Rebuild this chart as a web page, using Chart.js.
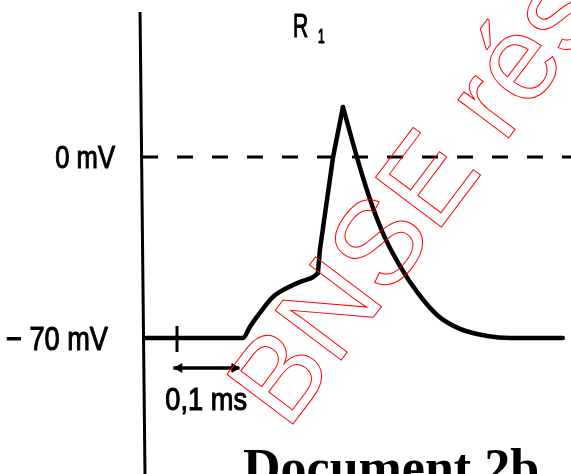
<!DOCTYPE html>
<html>
<head>
<meta charset="utf-8">
<script src="https://cdn.jsdelivr.net/npm/chart.js@4"></script>
<style>
  html, body { margin: 0; padding: 0; background: #fff; }
  canvas { display: block; }
</style>
</head>
<body>
<canvas id="c" width="571" height="474"></canvas>
<script>
// ---- Data ----
// membrane potential trace (time in ms, potential in mV)
const timeMs      = [0.003, 0.1515, 0.162, 0.177, 0.197, 0.218, 0.238, 0.258, 0.265, 0.268, 0.288, 0.303, 0.318, 0.333, 0.3485, 0.3667, 0.3894, 0.4152, 0.4455, 0.4803, 0.5212, 0.556, 0.636];
const potentialMv = [-70,   -70,    -65.7, -60.3, -54.1, -50.7, -48.3, -46.4, -44.9, -36.0, 0,     19.3,  5.4,   -7.7,  -19.7,  -31.3,  -42.2,  -52.2,  -61.1,  -66.5,  -69.2,  -70,   -70];
const riseEnd = 8, peakIndex = 11;        // segment boundaries in the trace
const yTickValues = [0, -70];
const yTickLabels = ["0 mV", "\u2212 70 mV"];
const referenceMv = 0;                    // dashed reference line
const scaleBarStartMs = 0.046;
const scaleBarLengthMs = 0.1;
const scaleBarTickMs = 0.0515;
const scaleBarLabel = "0,1 ms";
const curveTitle = "R";
const curveTitleSub = "1";
const documentLabel = "Document 2b";
const watermark = "BNSE réseau";

// ---- scale ranges (whole canvas is the plot area) ----
const X_MIN = -0.2167, X_MAX = 0.6485;
const Y_MIN = -122.6, Y_MAX = 60.7;

function pts(a, b) {
  const out = [];
  for (let i = a; i <= b; i++) out.push({ x: timeMs[i], y: potentialMv[i] });
  return out;
}
const last = timeMs.length - 1;
const black = '#000';
const PX_MS = 1 / 660; // one pixel in ms, used to inset arrow heads

const datasets = [
  { // vertical axis
    data: [{ x: -0.0045, y: 56.1 }, { x: 0.003, y: -122.6 }],
    borderColor: black, borderWidth: 3, pointRadius: 0, showLine: true
  },
  { // dashed 0 mV line
    data: [{ x: -0.0015, y: referenceMv }, { x: X_MAX + 0.05, y: referenceMv }],
    borderColor: black, borderWidth: 3, borderDash: [16, 19], pointRadius: 0, showLine: true
  },
  { // rise (baseline + local depolarisation)
    data: pts(0, riseEnd),
    borderColor: black, borderWidth: 4.5, pointRadius: 0, showLine: true,
    cubicInterpolationMode: 'monotone', borderCapStyle: 'round'
  },
  { // spike upstroke
    data: pts(riseEnd, peakIndex),
    borderColor: black, borderWidth: 4.5, pointRadius: 0, showLine: true,
    borderJoinStyle: 'miter', borderCapStyle: 'round'
  },
  { // repolarisation
    data: pts(peakIndex, last),
    borderColor: black, borderWidth: 4.5, pointRadius: 0, showLine: true,
    cubicInterpolationMode: 'monotone', borderCapStyle: 'round'
  },
  { // scale bar tick
    data: [{ x: scaleBarTickMs, y: -65.4 }, { x: scaleBarTickMs, y: -75.4 }],
    borderColor: black, borderWidth: 3, pointRadius: 0, showLine: true
  },
  { // scale bar line
    data: [{ x: scaleBarStartMs, y: -81.6 }, { x: scaleBarStartMs + scaleBarLengthMs, y: -81.6 }],
    borderColor: black, borderWidth: 3.5, pointRadius: 0, showLine: true
  },
  { // scale bar arrow heads
    data: [{ x: scaleBarStartMs + 6 * PX_MS, y: -81.6 }, { x: scaleBarStartMs + scaleBarLengthMs - 5 * PX_MS, y: -81.6 }],
    showLine: false, pointStyle: 'triangle', pointRadius: 5,
    rotation: [-90, 90], backgroundColor: black, borderColor: black, borderWidth: 1
  }
];

function drawScaled(ctx, text, x, y, font, sx, align, weight) {
  ctx.save();
  ctx.translate(x, y);
  ctx.scale(sx, 1);
  ctx.font = font;
  ctx.textAlign = align;
  ctx.textBaseline = 'alphabetic';
  ctx.fillStyle = '#000';
  ctx.strokeStyle = '#000';
  ctx.lineWidth = weight;
  ctx.fillText(text, 0, 0);
  if (weight > 0) ctx.strokeText(text, 0, 0);
  ctx.restore();
}

const textPlugin = {
  id: 'texts',
  afterDatasetsDraw(chart) {
    const ctx = chart.ctx;
    const xs = chart.scales.x, ys = chart.scales.y;
    const SANS = '"Liberation Sans", Arial, sans-serif';
    // y tick labels
    yTickValues.forEach((v, i) => {
      const py = ys.getPixelForValue(v);
      const big = i === 1;
      drawScaled(ctx, yTickLabels[i], big ? 108 : 115, py + (big ? 12 : 11),
        (big ? '34px ' : '32px ') + SANS, 0.8, 'right', 1.1);
    });
    // scale bar label
    drawScaled(ctx, scaleBarLabel, xs.getPixelForValue(scaleBarStartMs) - 8, ys.getPixelForValue(-81.6) + 42,
      '32px ' + SANS, 0.85, 'left', 1.1);
    // curve title
    drawScaled(ctx, curveTitle, 293, 37, '34px ' + SANS, 0.62, 'left', 1.1);
    drawScaled(ctx, curveTitleSub, 318, 43, '20px ' + SANS, 0.6, 'left', 1.2);
    // document label
    ctx.save();
    ctx.font = 'bold 52px "Liberation Serif", "Times New Roman", serif';
    ctx.fillStyle = '#000';
    ctx.textAlign = 'left';
    ctx.textBaseline = 'alphabetic';
    ctx.fillText(documentLabel, 243, 485);
    ctx.restore();
    // watermark
    ctx.save();
    ctx.translate(287, 432);
    ctx.rotate(-53 * Math.PI / 180);
    ctx.font = '120px ' + SANS;
    ctx.strokeStyle = '#ff0000';
    ctx.lineWidth = 1;
    ctx.textBaseline = 'alphabetic';
    ctx.strokeText(watermark, 0, 0);
    ctx.restore();
  }
};

new Chart(document.getElementById('c'), {
  type: 'scatter',
  data: { datasets },
  options: {
    responsive: false,
    devicePixelRatio: 1,
    animation: false,
    events: [],
    layout: { padding: 0, autoPadding: false },
    plugins: { legend: { display: false }, tooltip: { enabled: false } },
    scales: {
      x: { type: 'linear', display: false, min: X_MIN, max: X_MAX },
      y: { type: 'linear', display: false, min: Y_MIN, max: Y_MAX }
    }
  },
  plugins: [textPlugin]
});
</script>
</body>
</html>
